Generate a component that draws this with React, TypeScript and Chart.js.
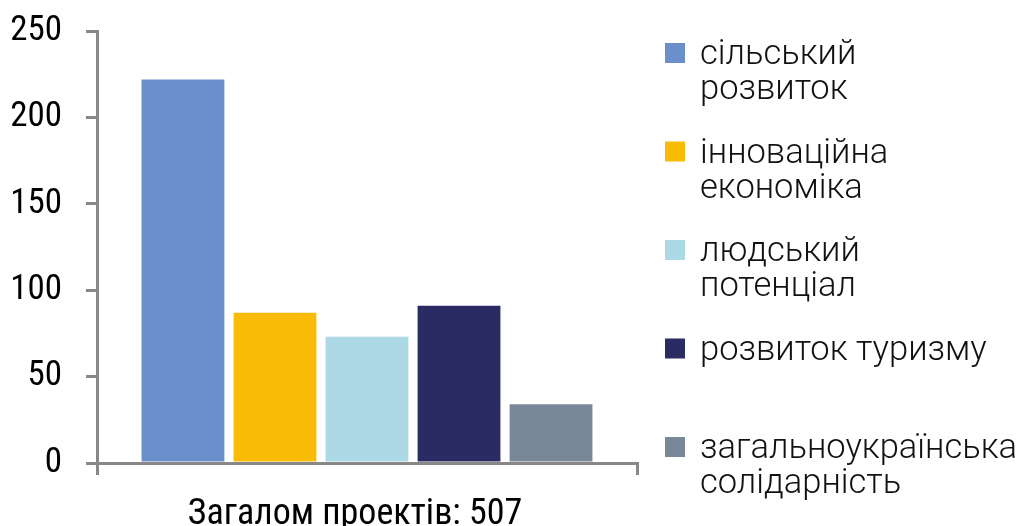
import React, { useEffect, useRef } from "react";
import { Chart, registerables } from "chart.js";

Chart.register(...registerables);

const categories = ["Загалом проектів: 507"];
const seriesLabels = [
  "сільський розвиток",
  "інноваційна економіка",
  "людський потенціал",
  "розвиток туризму",
  "загальноукраїнська солідарність",
];
const legendLines = [
  ["сільський", "розвиток"],
  ["інноваційна", "економіка"],
  ["людський", "потенціал"],
  ["розвиток туризму"],
  ["загальноукраїнська", "солідарність"],
];
const seriesValues = [222, 87, 73, 91, 34];
const seriesColors = ["#6B8FCB", "#F9BB05", "#ADD8E5", "#2A2B63", "#7A8798"];
const yMin = 0;
const yMax = 250;
const yStep = 50;

const AXIS_GRAY = "#888888";
const NARROW = "'Roboto Condensed', 'Liberation Sans Narrow', 'DejaVu Sans Condensed', Roboto";

const legendPlugin = {
  id: "sideLegend",
  afterDraw(chart: any) {
    const ctx = chart.ctx;
    const boxX = 665;
    const box = 20;
    const textX = 700;
    const firstY = 53;
    const step = 98.5;
    const lineH = 35;
    ctx.save();
    ctx.font = "300 34.5px Roboto";
    ctx.textAlign = "left";
    ctx.textBaseline = "alphabetic";
    chart.data.datasets.forEach((ds: any, i: number) => {
      const cy = firstY + i * step;
      ctx.fillStyle = ds.backgroundColor;
      ctx.fillRect(boxX, cy - box / 2, box, box);
      ctx.fillStyle = "#111111";
      legendLines[i].forEach((line, j) => {
        ctx.fillText(line, textX, cy + 11 + j * lineH);
      });
    });
    ctx.restore();
  },
};

export default function App() {
  const ref = useRef<HTMLCanvasElement | null>(null);
  useEffect(() => {
    if (!ref.current) return;
    const chart = new Chart(ref.current, {
      type: "bar",
      data: {
        labels: categories,
        datasets: seriesValues.map((v, i) => ({
          label: seriesLabels[i],
          data: [v],
          backgroundColor: seriesColors[i],
          borderWidth: 0,
          categoryPercentage: 0.852,
          barPercentage: 0.9,
        })),
      },
      options: {
        responsive: false,
        animation: false,
        devicePixelRatio: 1,
        layout: { padding: { top: 0, right: 383, bottom: 0, left: 0 } },
        plugins: {
          legend: { display: false },
          tooltip: { enabled: false },
          title: { display: false },
        },
        scales: {
          x: {
            offset: true,
            grid: {
              display: true,
              drawOnChartArea: false,
              drawTicks: true,
              tickLength: 12,
              color: AXIS_GRAY,
              lineWidth: 3,
              offset: true,
            },
            border: { display: true, color: AXIS_GRAY, width: 3 },
            ticks: {
              color: "#000000",
              font: { family: NARROW, size: 36, weight: "400" },
              labelOffset: -12,
              padding: 18,
              maxRotation: 0,
            },
            afterFit: (s: any) => {
              s.height = 63;
              s.paddingLeft = 0;
              s.paddingRight = 0;
            },
          },
          y: {
            min: yMin,
            max: yMax,
            grid: {
              display: true,
              drawOnChartArea: false,
              drawTicks: true,
              tickLength: 11,
              color: AXIS_GRAY,
              lineWidth: 3,
            },
            border: { display: true, color: AXIS_GRAY, width: 3 },
            ticks: {
              stepSize: yStep,
              color: "#000000",
              font: { family: NARROW, size: 35, weight: "400" },
              padding: 24,
            },
            afterFit: (s: any) => {
              s.width = 97;
              s.paddingTop = 31;
              s.paddingBottom = 0;
            },
          },
        },
      },
      plugins: [legendPlugin],
    });
    return () => chart.destroy();
  }, []);
  return (
    <div style={{ position: "fixed", left: 0, top: 0, width: 1020, height: 526, background: "#fff" }}>
      <canvas ref={ref} width={1020} height={526} />
    </div>
  );
}
